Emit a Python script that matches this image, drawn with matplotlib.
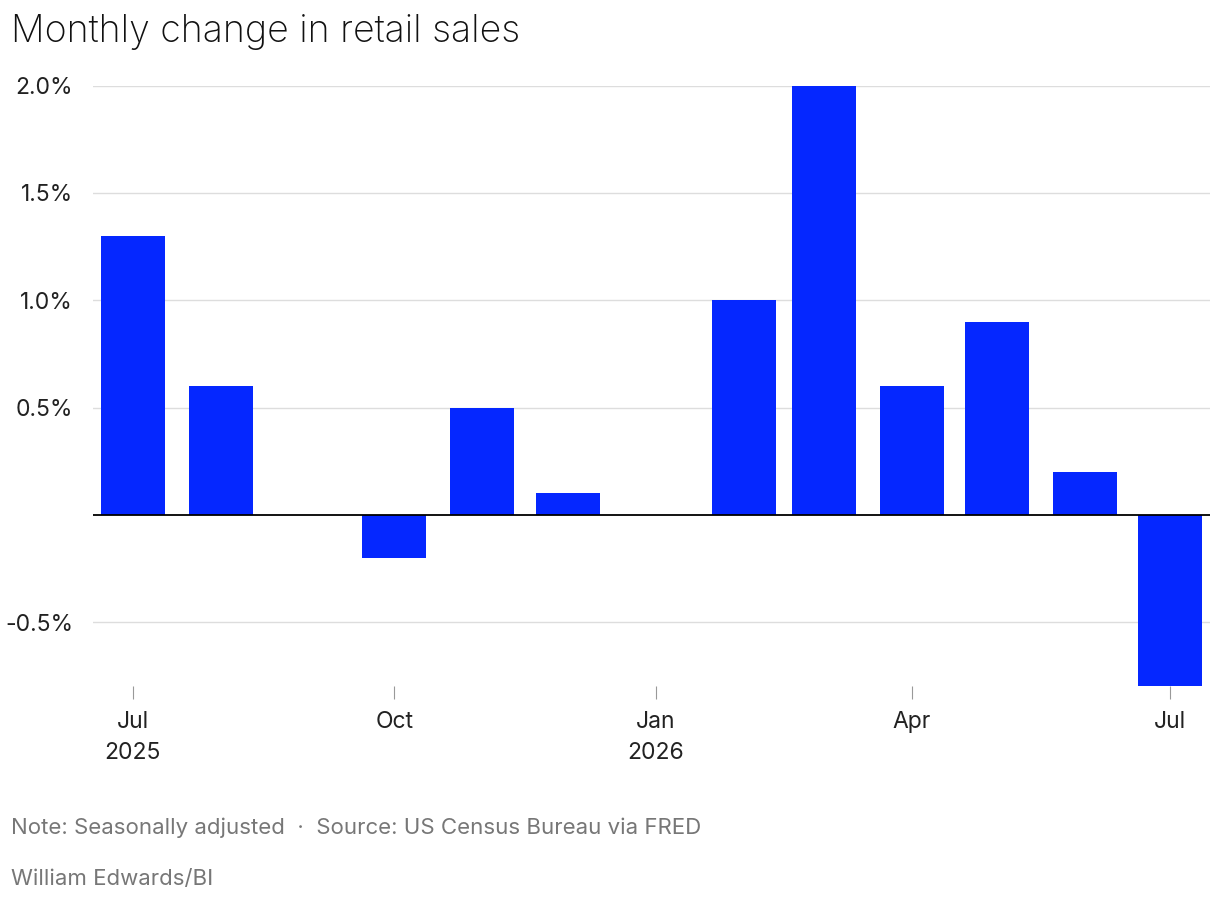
import datetime as dt
import matplotlib
matplotlib.use("Agg")
import matplotlib.pyplot as plt
import matplotlib.dates as mdates

plt.rcParams['font.family'] = ['Inter', 'DejaVu Sans']

# Monthly change in retail sales (%), Jul 2025 - Jul 2026
months = [dt.date(2025, m, 1) for m in range(7, 13)] + [dt.date(2026, m, 1) for m in range(1, 8)]
changes = [1.3, 0.6, 0.0, -0.2, 0.5, 0.1, 0.0, 1.0, 2.0, 0.6, 0.9, 0.2, -0.8]

tick_dates = [dt.date(2025, 7, 1), dt.date(2025, 10, 1), dt.date(2026, 1, 1),
              dt.date(2026, 4, 1), dt.date(2026, 7, 1)]
tick_labels = ["Jul\n2025", "Oct", "Jan\n2026", "Apr", "Jul"]
y_ticks = [-0.5, 0.5, 1.0, 1.5, 2.0]

fig = plt.figure(figsize=(12.2, 9.02), dpi=100)
ax = fig.add_axes([0.076, 0.239, 0.916, 0.666])

ax.bar(months, changes, width=22.5, color="#0527FF", zorder=3)
ax.axhline(0, color="black", lw=1.3, zorder=4)

ax.set_ylim(-0.8, 2.0)
ax.set_xlim(dt.date(2025, 7, 1) - dt.timedelta(days=14.5),
            dt.date(2026, 7, 1) + dt.timedelta(days=14.5))
ax.set_yticks(y_ticks)
ax.set_yticklabels([f"{v:.1f}%" for v in y_ticks])
ax.yaxis.grid(True, color="#dddddd", lw=1, zorder=0)
ax.tick_params(axis="y", length=0, pad=14, labelsize=16.5, labelcolor="#222222")

ax.set_xticks([mdates.date2num(d) for d in tick_dates])
ax.set_xticklabels(tick_labels, linespacing=1.5)
ax.tick_params(axis="x", length=9, color="#999999", pad=9, labelsize=16.5, labelcolor="#222222")

for s in ax.spines.values():
    s.set_visible(False)

fig.text(0.009, 0.965, "Monthly change in retail sales", fontsize=27, va="center",
         color="#111111", fontweight="light")
fig.text(0.009, 0.082, "Note: Seasonally adjusted  \u00b7  Source: US Census Bureau via FRED",
         fontsize=16, color="#777777", va="center")
fig.text(0.009, 0.025, "William Edwards/BI", fontsize=16, color="#777777", va="center")

fig.savefig("out.png", dpi=100)
